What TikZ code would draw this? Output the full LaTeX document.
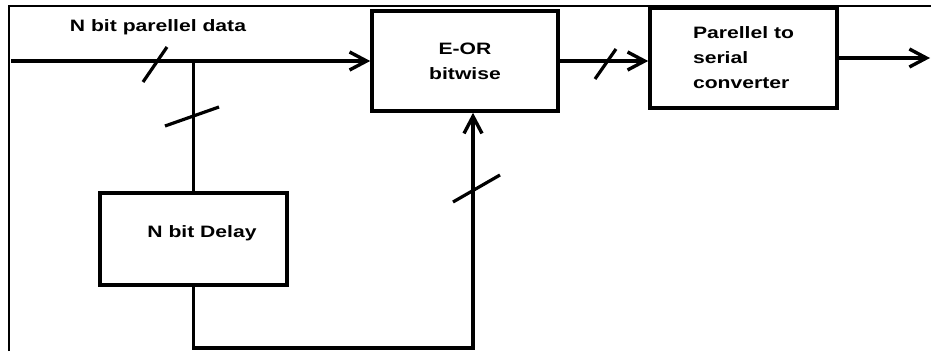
\documentclass[tikz,border=0pt]{standalone}
\usepackage{fontspec}
\setmainfont[FakeStretch=1.28]{Liberation Sans}
\usetikzlibrary{arrows.meta}
\begin{document}
\begin{tikzpicture}[x=1pt,y=-1pt,
  wire/.style={line width=3.2pt},
  arr/.style={wire,-{Straight Barb[length=17pt,width=18pt,line width=3.4pt]}},
  blk/.style={draw,line width=3.6pt,rectangle,inner sep=0pt,font=\fontsize{16.5}{25}\selectfont\bfseries},
  lbl/.style={font=\fontsize{16.5}{25}\selectfont\bfseries,inner sep=0pt},
  slashmark/.style={line width=3.2pt},
  frame/.style={line width=2pt}]
\useasboundingbox (0,0) rectangle (931,351);
% frame
\draw[frame] (9,351) -- (9,6) -- (931,6);
% blocks
\node[blk,minimum width=186pt,minimum height=100pt,align=center] (eor) at (465,61) {E-OR\\bitwise};
\node[blk,minimum width=187pt,minimum height=100pt,align=left] (p2s) at (743.5,58) {Parellel to\\serial\\converter};
\node[blk,minimum width=187pt,minimum height=92pt] (delay) at (193.5,239) {};
\node[lbl] (delaytext) at (202,233) {N bit Delay};
\node[lbl] (datalbl) at (158,27) {N bit parellel data};
% coordinates
\coordinate (in) at (11,61);
\coordinate (jn) at (193.5,61);
\coordinate (bot) at (473,348);
\coordinate (out) at (930,58);
% connectors
\draw[arr] (in) -- (eor.west);
\draw[wire] (jn) -- (delay.north);
\draw[arr] (delay.south) |- (bot) -- (bot |- eor.south);
\draw[arr] (eor.east) -- (eor.east -| p2s.west);
\draw[arr] (p2s.east) -- (out);
% bus slashes
\draw[slashmark] (143,82) -- (167,47);
\draw[slashmark] (165,126) -- (219,107);
\draw[slashmark] (453,202) -- (500,175);
\draw[slashmark] (595,79) -- (616,49);
\end{tikzpicture}
\end{document}
